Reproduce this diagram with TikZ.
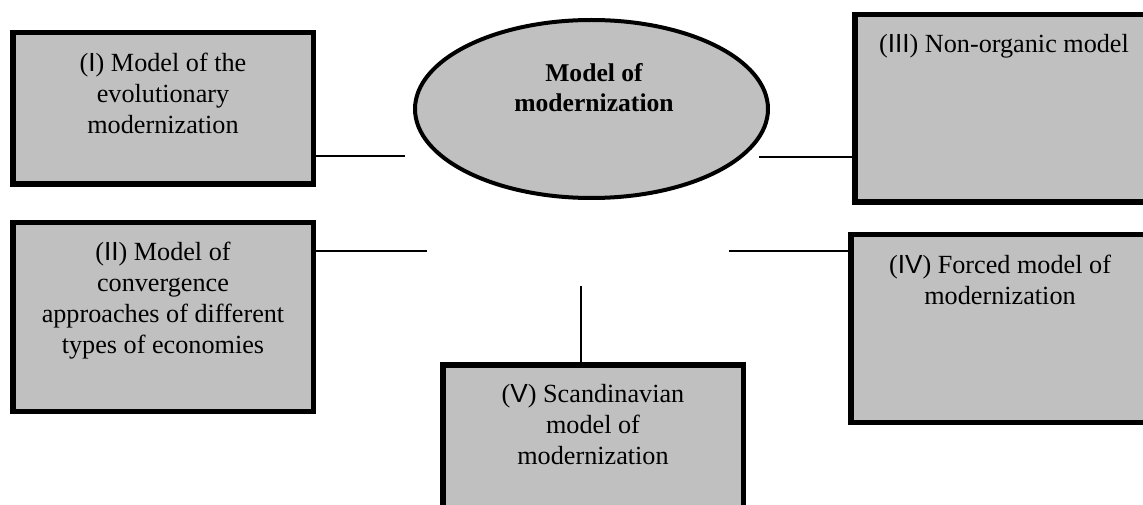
\documentclass[tikz,border=0pt]{standalone}
\usepackage{fontspec}
\setmainfont{Liberation Serif}
\newfontfamily\numfont{Liberation Sans}
\usetikzlibrary{shapes.geometric}
\definecolor{boxgray}{HTML}{C0C0C0}
\tikzset{
  modelbox/.style={draw=black, fill=boxgray, line width=5.5pt, rectangle, inner sep=0pt},
  boxtext/.style={anchor=base, align=center, inner sep=0pt, font=\fontsize{26.2}{31}\selectfont},
  hubtext/.style={anchor=base, align=center, inner sep=0pt, font=\fontsize{25.6}{29.5}\selectfont\bfseries},
  link/.style={draw=black, line width=2pt}
}
\begin{document}
\begin{tikzpicture}[x=1pt,y=-1pt]
\useasboundingbox (0,0) rectangle (1143,505);
\clip (0,0) rectangle (1143,505);
% boxes
\node[modelbox, minimum width=300.5pt, minimum height=151.5pt] (b1) at (163,108.5) {};
\node[modelbox, minimum width=300.5pt, minimum height=188.5pt] (b2) at (163,317) {};
\node[modelbox, minimum width=298.5pt, minimum height=187.5pt] (b3) at (1004,108.5) {};
\node[modelbox, minimum width=298.5pt, minimum height=187.5pt] (b4) at (1000,328.5) {};
\node[modelbox, minimum width=300.5pt, minimum height=200pt] (b5) at (593,465) {};
% hub
\node[ellipse, draw=black, fill=boxgray, line width=4pt, inner sep=0pt,
      minimum width=353pt, minimum height=178pt] (hub) at (591.5,109) {};
% texts (base anchor = baseline of the last line)
\node[hubtext] (hubt) at (594,111.5) {Model of\\modernization};
\node[boxtext] (t1) at (163,134) {({\numfont I}) Model of the\\evolutionary\\modernization};
\node[boxtext] (t2) at (163,353) {({\numfont II}) Model of\\convergence\\approaches of different\\types of economies};
\node[boxtext] (t3) at (1004,53) {({\numfont III}) Non-organic model};
\node[boxtext] (t4) at (1000,304) {({\numfont IV}) Forced model of\\modernization};
\node[boxtext] (t5) at (593,464) {({\numfont V}) Scandinavian\\model of\\modernization};
% free ends
\coordinate (e1) at (405,156);
\coordinate (e3) at (759,157);
\coordinate (e2) at (427,251);
\coordinate (e4) at (729,251);
\coordinate (e5) at (581,286);
\draw[link] (b1.east |- e1) -- (e1);
\draw[link] (e3) -- (b3.west |- e3);
\draw[link] (b2.east |- e2) -- (e2);
\draw[link] (e4) -- (b4.west |- e4);
\draw[link] (e5) -- (e5 |- b5.north);
\end{tikzpicture}
\end{document}
